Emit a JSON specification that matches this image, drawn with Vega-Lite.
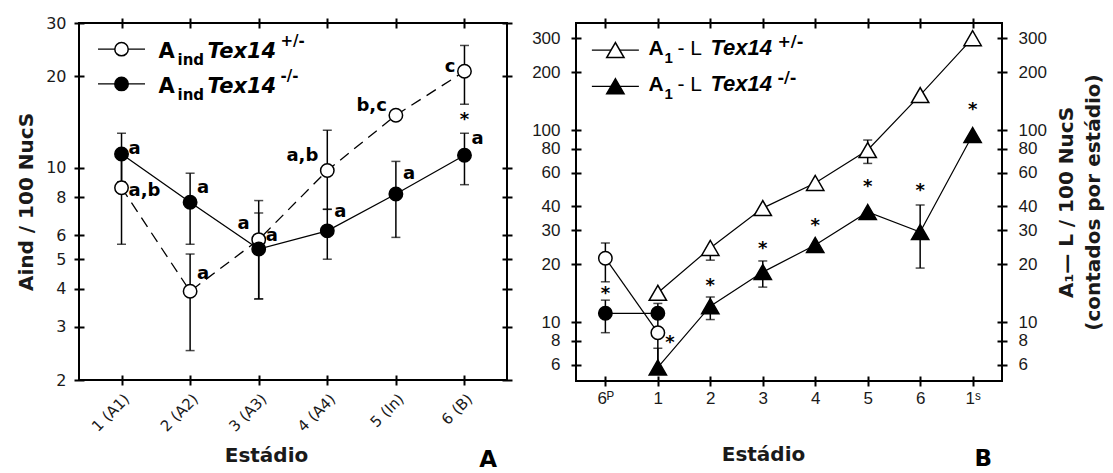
{
"$schema": "https://vega.github.io/schema/vega-lite/v6.json",
"background": "white",
"padding": {"left": 15, "top": 14, "right": 0, "bottom": 0},
"spacing": 16,
"config": {
  "view": {"stroke": "black", "strokeWidth": 2},
  "axis": {"grid": false, "domain": false, "tickColor": "black", "tickWidth": 2, "tickSize": 10, "offset": -5, "labelColor": "#1a1a1a", "titleColor": "#1a1a1a", "labelFont": "DejaVu Sans", "titleFont": "DejaVu Sans", "titleFontWeight": "bold", "titleFontSize": 20, "labelFontSize": 16, "labelOverlap": false, "labelFlush": false},
  "title": {"font": "DejaVu Sans", "fontSize": 23, "fontWeight": "bold", "color": "black"}
},
"datasets": {
  "mainA": [
    {"stage": "1 (A1)", "g": "het", "mean": 8.6, "lo": 5.6, "hi": 11.3},
    {"stage": "2 (A2)", "g": "het", "mean": 3.92, "lo": 2.5, "hi": 5.2},
    {"stage": "3 (A3)", "g": "het", "mean": 5.8, "lo": 3.7, "hi": 7.8},
    {"stage": "4 (A4)", "g": "het", "mean": 9.8, "lo": 7.3, "hi": 13.3},
    {"stage": "5 (In)", "g": "het", "mean": 14.9, "lo": null, "hi": null},
    {"stage": "6 (B)", "g": "het", "mean": 20.8, "lo": 16.2, "hi": 25.3},
    {"stage": "1 (A1)", "g": "ko", "mean": 11.1, "lo": 9.0, "hi": 13.0},
    {"stage": "2 (A2)", "g": "ko", "mean": 7.7, "lo": 5.6, "hi": 9.6},
    {"stage": "3 (A3)", "g": "ko", "mean": 5.4, "lo": 3.7, "hi": 7.1},
    {"stage": "4 (A4)", "g": "ko", "mean": 6.2, "lo": 5.0, "hi": 7.3},
    {"stage": "5 (In)", "g": "ko", "mean": 8.2, "lo": 5.9, "hi": 10.5},
    {"stage": "6 (B)", "g": "ko", "mean": 11.0, "lo": 8.8, "hi": 13.0}
  ],
  "legA": [
    {"stage": "1 (A1)", "val": 24.6, "g": "het", "sup": "+/-"},
    {"stage": "1 (A1)", "val": 18.9, "g": "ko", "sup": "-/-"}
  ],
  "letA": [
    {"stage": "1 (A1)", "val": 11.5, "txt": "a", "side": "r"},
    {"stage": "1 (A1)", "val": 8.4, "txt": "a,b", "side": "r"},
    {"stage": "2 (A2)", "val": 8.6, "txt": "a", "side": "r"},
    {"stage": "2 (A2)", "val": 4.46, "txt": "a", "side": "r"},
    {"stage": "3 (A3)", "val": 5.94, "txt": "a", "side": "r"},
    {"stage": "4 (A4)", "val": 7.17, "txt": "a", "side": "r"},
    {"stage": "5 (In)", "val": 9.55, "txt": "a", "side": "r"},
    {"stage": "6 (B)", "val": 12.4, "txt": "a", "side": "r"},
    {"stage": "3 (A3)", "val": 6.55, "txt": "a", "side": "l"},
    {"stage": "4 (A4)", "val": 10.9, "txt": "a,b", "side": "l"},
    {"stage": "5 (In)", "val": 16.0, "txt": "b,c", "side": "l"},
    {"stage": "6 (B)", "val": 21.5, "txt": "c", "side": "l"},
    {"stage": "6 (B)", "val": 14.7, "txt": "*", "side": "c"}
  ],
  "mainB": [
    {"stage": "1", "g": "th", "mean": 14.2, "lo": null, "hi": null},
    {"stage": "2", "g": "th", "mean": 24.3, "lo": 21.0, "hi": 24.3},
    {"stage": "3", "g": "th", "mean": 39.2, "lo": null, "hi": null},
    {"stage": "4", "g": "th", "mean": 53.0, "lo": null, "hi": null},
    {"stage": "5", "g": "th", "mean": 78.7, "lo": 67.0, "hi": 88.7},
    {"stage": "6", "g": "th", "mean": 152.0, "lo": null, "hi": null},
    {"stage": "1ˢ", "g": "th", "mean": 301.0, "lo": 276.0, "hi": 301.0},
    {"stage": "1", "g": "tk", "mean": 5.8, "lo": 5.4, "hi": 7.3},
    {"stage": "2", "g": "tk", "mean": 12.1, "lo": 10.3, "hi": 13.5},
    {"stage": "3", "g": "tk", "mean": 18.2, "lo": 15.2, "hi": 20.8},
    {"stage": "4", "g": "tk", "mean": 25.2, "lo": null, "hi": null},
    {"stage": "5", "g": "tk", "mean": 37.4, "lo": null, "hi": null},
    {"stage": "6", "g": "tk", "mean": 29.4, "lo": 19.1, "hi": 40.7},
    {"stage": "1ˢ", "g": "tk", "mean": 94.2, "lo": null, "hi": null},
    {"stage": "6ᴾ", "g": "ch", "mean": 21.5, "lo": 16.2, "hi": 25.8},
    {"stage": "1", "g": "ch", "mean": 8.8, "lo": 5.5, "hi": 8.8},
    {"stage": "6ᴾ", "g": "ck", "mean": 11.1, "lo": 8.8, "hi": 13.0},
    {"stage": "1", "g": "ck", "mean": 11.1, "lo": 9.1, "hi": 12.5}
  ],
  "legB": [
    {"stage": "6ᴾ", "val": 261, "g": "th", "sup": "+/-"},
    {"stage": "6ᴾ", "val": 169, "g": "tk", "sup": "-/-"}
  ],
  "starB": [
    {"stage": "6ᴾ", "val": 14.5},
    {"stage": "1", "val": 8.1},
    {"stage": "2", "val": 16.0},
    {"stage": "3", "val": 24.9},
    {"stage": "4", "val": 32.8},
    {"stage": "5", "val": 52.3},
    {"stage": "6", "val": 49.9},
    {"stage": "1ˢ", "val": 131.8}
  ]
},
"hconcat": [
  {
    "width": 428,
    "height": 357,
    "title": {"text": "A", "orient": "bottom", "anchor": "end", "frame": "group", "offset": -16, "dx": -10},
    "resolve": {"axis": {"x": "independent", "y": "independent"}},
    "layer": [
      {
        "data": {"name": "mainA"},
        "transform": [{"filter": "datum.g === 'het'"}],
        "mark": {"type": "line", "color": "black", "strokeWidth": 1.3, "strokeDash": [11, 7]},
        "encoding": {
          "x": {"field": "stage", "type": "nominal", "scale": {"type": "point", "padding": 0.62, "domain": ["1 (A1)", "2 (A2)", "3 (A3)", "4 (A4)", "5 (In)", "6 (B)"]}, "axis": {"orient": "bottom", "labelAngle": -45, "labelFontSize": 15, "labelPadding": 6, "title": "Estádio", "titleX": 187, "titleY": 86, "titleBaseline": "alphabetic"}},
          "y": {"field": "mean", "type": "quantitative", "scale": {"type": "log", "domain": [2, 30], "nice": false}, "axis": {"orient": "left", "values": [2, 3, 4, 5, 6, 8, 10, 20, 30], "format": "d", "labelPadding": 8, "title": "Aind / 100 NucS", "titlePadding": 9}},
          "order": {"value": null}
        }
      },
      {
        "data": {"name": "mainA"},
        "transform": [{"filter": "datum.g === 'ko'"}],
        "mark": {"type": "line", "color": "black", "strokeWidth": 1.3},
        "encoding": {
          "x": {"field": "stage", "type": "nominal", "scale": {"type": "point", "padding": 0.62, "domain": ["1 (A1)", "2 (A2)", "3 (A3)", "4 (A4)", "5 (In)", "6 (B)"]}, "axis": {"orient": "top", "labels": false, "title": null}},
          "y": {"field": "mean", "type": "quantitative", "scale": {"type": "log", "domain": [2, 30], "nice": false}, "axis": {"orient": "right", "values": [2, 3, 4, 5, 6, 8, 10, 20, 30], "labels": false, "title": null}},
          "order": {"value": null}
        }
      },
      {
        "data": {"name": "mainA"},
        "transform": [{"filter": "datum.lo != null"}],
        "mark": {"type": "errorbar", "color": "black", "thickness": 1.5, "size": 9, "ticks": true},
        "encoding": {
          "x": {"field": "stage", "type": "nominal", "scale": {"type": "point", "padding": 0.62, "domain": ["1 (A1)", "2 (A2)", "3 (A3)", "4 (A4)", "5 (In)", "6 (B)"]}, "axis": null},
          "y": {"field": "lo", "type": "quantitative", "scale": {"type": "log", "domain": [2, 30], "nice": false}, "axis": null},
          "y2": {"field": "hi"}
        }
      },
      {
        "data": {"name": "mainA"},
        "transform": [{"filter": "datum.g === 'het'"}],
        "mark": {"type": "point", "shape": "circle", "size": 180, "filled": true, "fill": "white", "stroke": "black", "strokeWidth": 1.5, "opacity": 1},
        "encoding": {
          "x": {"field": "stage", "type": "nominal", "scale": {"type": "point", "padding": 0.62, "domain": ["1 (A1)", "2 (A2)", "3 (A3)", "4 (A4)", "5 (In)", "6 (B)"]}, "axis": null},
          "y": {"field": "mean", "type": "quantitative", "scale": {"type": "log", "domain": [2, 30], "nice": false}, "axis": null}
        }
      },
      {
        "data": {"name": "mainA"},
        "transform": [{"filter": "datum.g === 'ko'"}],
        "mark": {"type": "point", "shape": "circle", "size": 180, "filled": true, "fill": "black", "stroke": "black", "strokeWidth": 1.5, "opacity": 1},
        "encoding": {
          "x": {"field": "stage", "type": "nominal", "scale": {"type": "point", "padding": 0.62, "domain": ["1 (A1)", "2 (A2)", "3 (A3)", "4 (A4)", "5 (In)", "6 (B)"]}, "axis": null},
          "y": {"field": "mean", "type": "quantitative", "scale": {"type": "log", "domain": [2, 30], "nice": false}, "axis": null}
        }
      },
      {
        "data": {"name": "legA"},
        "mark": {"type": "tick", "orient": "horizontal", "size": 47, "thickness": 1.3, "color": "black", "opacity": 1},
        "encoding": {
          "x": {"field": "stage", "type": "nominal", "scale": {"type": "point", "padding": 0.62, "domain": ["1 (A1)", "2 (A2)", "3 (A3)", "4 (A4)", "5 (In)", "6 (B)"]}, "axis": null},
          "y": {"field": "val", "type": "quantitative", "scale": {"type": "log", "domain": [2, 30], "nice": false}, "axis": null}
        }
      },
      {
        "data": {"name": "legA"},
        "transform": [{"filter": "datum.g === 'het'"}],
        "mark": {"type": "point", "shape": "circle", "size": 180, "filled": true, "fill": "white", "stroke": "black", "strokeWidth": 1.5, "opacity": 1},
        "encoding": {
          "x": {"field": "stage", "type": "nominal", "scale": {"type": "point", "padding": 0.62, "domain": ["1 (A1)", "2 (A2)", "3 (A3)", "4 (A4)", "5 (In)", "6 (B)"]}, "axis": null},
          "y": {"field": "val", "type": "quantitative", "scale": {"type": "log", "domain": [2, 30], "nice": false}, "axis": null}
        }
      },
      {
        "data": {"name": "legA"},
        "transform": [{"filter": "datum.g === 'ko'"}],
        "mark": {"type": "point", "shape": "circle", "size": 180, "filled": true, "fill": "black", "stroke": "black", "strokeWidth": 1.5, "opacity": 1},
        "encoding": {
          "x": {"field": "stage", "type": "nominal", "scale": {"type": "point", "padding": 0.62, "domain": ["1 (A1)", "2 (A2)", "3 (A3)", "4 (A4)", "5 (In)", "6 (B)"]}, "axis": null},
          "y": {"field": "val", "type": "quantitative", "scale": {"type": "log", "domain": [2, 30], "nice": false}, "axis": null}
        }
      },
      {
        "data": {"name": "legA"},
        "mark": {"type": "text", "text": "A", "align": "left", "baseline": "alphabetic", "dx": 37, "dy": 9, "font": "DejaVu Sans", "fontSize": 21, "fontWeight": "bold", "color": "black"},
        "encoding": {
          "x": {"field": "stage", "type": "nominal", "scale": {"type": "point", "padding": 0.62, "domain": ["1 (A1)", "2 (A2)", "3 (A3)", "4 (A4)", "5 (In)", "6 (B)"]}, "axis": null},
          "y": {"field": "val", "type": "quantitative", "scale": {"type": "log", "domain": [2, 30], "nice": false}, "axis": null}
        }
      },
      {
        "data": {"name": "legA"},
        "mark": {"type": "text", "text": "ind", "align": "left", "baseline": "alphabetic", "dx": 56, "dy": 16, "font": "DejaVu Sans", "fontSize": 15, "fontWeight": "bold", "color": "black"},
        "encoding": {
          "x": {"field": "stage", "type": "nominal", "scale": {"type": "point", "padding": 0.62, "domain": ["1 (A1)", "2 (A2)", "3 (A3)", "4 (A4)", "5 (In)", "6 (B)"]}, "axis": null},
          "y": {"field": "val", "type": "quantitative", "scale": {"type": "log", "domain": [2, 30], "nice": false}, "axis": null}
        }
      },
      {
        "data": {"name": "legA"},
        "mark": {"type": "text", "text": "Tex14", "align": "left", "baseline": "alphabetic", "dx": 86, "dy": 9, "font": "DejaVu Sans", "fontSize": 21, "fontWeight": "bold", "fontStyle": "italic", "color": "black"},
        "encoding": {
          "x": {"field": "stage", "type": "nominal", "scale": {"type": "point", "padding": 0.62, "domain": ["1 (A1)", "2 (A2)", "3 (A3)", "4 (A4)", "5 (In)", "6 (B)"]}, "axis": null},
          "y": {"field": "val", "type": "quantitative", "scale": {"type": "log", "domain": [2, 30], "nice": false}, "axis": null}
        }
      },
      {
        "data": {"name": "legA"},
        "mark": {"type": "text", "align": "left", "baseline": "alphabetic", "dx": 159, "dy": -3, "font": "DejaVu Sans", "fontSize": 15, "fontWeight": "bold", "color": "black"},
        "encoding": {
          "x": {"field": "stage", "type": "nominal", "scale": {"type": "point", "padding": 0.62, "domain": ["1 (A1)", "2 (A2)", "3 (A3)", "4 (A4)", "5 (In)", "6 (B)"]}, "axis": null},
          "y": {"field": "val", "type": "quantitative", "scale": {"type": "log", "domain": [2, 30], "nice": false}, "axis": null},
          "text": {"field": "sup"}
        }
      },
      {
        "data": {"name": "letA"},
        "transform": [{"filter": "datum.side === 'r'"}],
        "mark": {"type": "text", "align": "left", "baseline": "middle", "dx": 7, "font": "DejaVu Sans", "fontSize": 18, "fontWeight": "bold", "color": "black"},
        "encoding": {
          "x": {"field": "stage", "type": "nominal", "scale": {"type": "point", "padding": 0.62, "domain": ["1 (A1)", "2 (A2)", "3 (A3)", "4 (A4)", "5 (In)", "6 (B)"]}, "axis": null},
          "y": {"field": "val", "type": "quantitative", "scale": {"type": "log", "domain": [2, 30], "nice": false}, "axis": null},
          "text": {"field": "txt"}
        }
      },
      {
        "data": {"name": "letA"},
        "transform": [{"filter": "datum.side === 'l'"}],
        "mark": {"type": "text", "align": "right", "baseline": "middle", "dx": -9, "font": "DejaVu Sans", "fontSize": 18, "fontWeight": "bold", "color": "black"},
        "encoding": {
          "x": {"field": "stage", "type": "nominal", "scale": {"type": "point", "padding": 0.62, "domain": ["1 (A1)", "2 (A2)", "3 (A3)", "4 (A4)", "5 (In)", "6 (B)"]}, "axis": null},
          "y": {"field": "val", "type": "quantitative", "scale": {"type": "log", "domain": [2, 30], "nice": false}, "axis": null},
          "text": {"field": "txt"}
        }
      },
      {
        "data": {"name": "letA"},
        "transform": [{"filter": "datum.side === 'c'"}],
        "mark": {"type": "text", "align": "center", "baseline": "middle", "dy": 3, "font": "DejaVu Sans", "fontSize": 18, "fontWeight": "bold", "color": "black"},
        "encoding": {
          "x": {"field": "stage", "type": "nominal", "scale": {"type": "point", "padding": 0.62, "domain": ["1 (A1)", "2 (A2)", "3 (A3)", "4 (A4)", "5 (In)", "6 (B)"]}, "axis": null},
          "y": {"field": "val", "type": "quantitative", "scale": {"type": "log", "domain": [2, 30], "nice": false}, "axis": null},
          "text": {"field": "txt"}
        }
      }
    ]
  },
  {
    "width": 426,
    "height": 358,
    "title": {"text": "B", "orient": "bottom", "anchor": "end", "frame": "group", "offset": -16, "dx": -10},
    "resolve": {"axis": {"x": "independent", "y": "independent"}},
    "layer": [
      {
        "data": {"name": "mainB"},
        "transform": [{"filter": "datum.g === 'th'"}],
        "mark": {"type": "line", "color": "black", "strokeWidth": 1.2},
        "encoding": {
          "x": {"field": "stage", "type": "nominal", "scale": {"type": "point", "padding": 0.56, "domain": ["6ᴾ", "1", "2", "3", "4", "5", "6", "1ˢ"]}, "axis": {"orient": "bottom", "labelAngle": 0, "labelFont": "Liberation Sans", "labelFontSize": 17, "labelPadding": 4, "title": "Estádio", "titleX": 187, "titleY": 84, "titleBaseline": "alphabetic"}},
          "y": {"field": "mean", "type": "quantitative", "scale": {"type": "log", "domain": [4.93, 361], "nice": false}, "axis": {"orient": "left", "values": [6, 8, 10, 20, 30, 40, 60, 80, 100, 200, 300], "format": "d", "labelFont": "Liberation Sans", "labelFontSize": 17, "labelPadding": 11, "title": null}},
          "order": {"value": null}
        }
      },
      {
        "data": {"name": "mainB"},
        "transform": [{"filter": "datum.g === 'tk'"}],
        "mark": {"type": "line", "color": "black", "strokeWidth": 1.2},
        "encoding": {
          "x": {"field": "stage", "type": "nominal", "scale": {"type": "point", "padding": 0.56, "domain": ["6ᴾ", "1", "2", "3", "4", "5", "6", "1ˢ"]}, "axis": {"orient": "top", "labels": false, "title": null}},
          "y": {"field": "mean", "type": "quantitative", "scale": {"type": "log", "domain": [4.93, 361], "nice": false}, "axis": {"orient": "right", "values": [6, 8, 10, 20, 30, 40, 60, 80, 100, 200, 300], "format": "d", "labelFont": "Liberation Sans", "labelFontSize": 17, "labelPadding": 11, "title": ["A₁— L / 100 NucS", "(contados por estádio)"], "titlePadding": -17, "titleAngle": 270, "titleBaseline": "top", "titleLineHeight": 27}},
          "order": {"value": null}
        }
      },
      {
        "data": {"name": "mainB"},
        "transform": [{"filter": "datum.g === 'ch'"}],
        "mark": {"type": "line", "color": "black", "strokeWidth": 1.2},
        "encoding": {
          "x": {"field": "stage", "type": "nominal", "scale": {"type": "point", "padding": 0.56, "domain": ["6ᴾ", "1", "2", "3", "4", "5", "6", "1ˢ"]}, "axis": null},
          "y": {"field": "mean", "type": "quantitative", "scale": {"type": "log", "domain": [4.93, 361], "nice": false}, "axis": null},
          "order": {"value": null}
        }
      },
      {
        "data": {"name": "mainB"},
        "transform": [{"filter": "datum.g === 'ck'"}],
        "mark": {"type": "line", "color": "black", "strokeWidth": 1.2},
        "encoding": {
          "x": {"field": "stage", "type": "nominal", "scale": {"type": "point", "padding": 0.56, "domain": ["6ᴾ", "1", "2", "3", "4", "5", "6", "1ˢ"]}, "axis": null},
          "y": {"field": "mean", "type": "quantitative", "scale": {"type": "log", "domain": [4.93, 361], "nice": false}, "axis": null},
          "order": {"value": null}
        }
      },
      {
        "data": {"name": "mainB"},
        "transform": [{"filter": "datum.lo != null"}],
        "mark": {"type": "errorbar", "color": "black", "thickness": 1.5, "size": 9, "ticks": true},
        "encoding": {
          "x": {"field": "stage", "type": "nominal", "scale": {"type": "point", "padding": 0.56, "domain": ["6ᴾ", "1", "2", "3", "4", "5", "6", "1ˢ"]}, "axis": null},
          "y": {"field": "lo", "type": "quantitative", "scale": {"type": "log", "domain": [4.93, 361], "nice": false}, "axis": null},
          "y2": {"field": "hi"}
        }
      },
      {
        "data": {"name": "mainB"},
        "transform": [{"filter": "datum.g === 'ch'"}],
        "mark": {"type": "point", "shape": "circle", "size": 180, "filled": true, "fill": "white", "stroke": "black", "strokeWidth": 1.5, "opacity": 1},
        "encoding": {
          "x": {"field": "stage", "type": "nominal", "scale": {"type": "point", "padding": 0.56, "domain": ["6ᴾ", "1", "2", "3", "4", "5", "6", "1ˢ"]}, "axis": null},
          "y": {"field": "mean", "type": "quantitative", "scale": {"type": "log", "domain": [4.93, 361], "nice": false}, "axis": null}
        }
      },
      {
        "data": {"name": "mainB"},
        "transform": [{"filter": "datum.g === 'ck'"}],
        "mark": {"type": "point", "shape": "circle", "size": 180, "filled": true, "fill": "black", "stroke": "black", "strokeWidth": 1.5, "opacity": 1},
        "encoding": {
          "x": {"field": "stage", "type": "nominal", "scale": {"type": "point", "padding": 0.56, "domain": ["6ᴾ", "1", "2", "3", "4", "5", "6", "1ˢ"]}, "axis": null},
          "y": {"field": "mean", "type": "quantitative", "scale": {"type": "log", "domain": [4.93, 361], "nice": false}, "axis": null}
        }
      },
      {
        "data": {"name": "mainB"},
        "transform": [{"filter": "datum.g === 'th'"}],
        "mark": {"type": "point", "shape": "triangle-up", "size": 300, "filled": true, "fill": "white", "stroke": "black", "strokeWidth": 1.5, "opacity": 1},
        "encoding": {
          "x": {"field": "stage", "type": "nominal", "scale": {"type": "point", "padding": 0.56, "domain": ["6ᴾ", "1", "2", "3", "4", "5", "6", "1ˢ"]}, "axis": null},
          "y": {"field": "mean", "type": "quantitative", "scale": {"type": "log", "domain": [4.93, 361], "nice": false}, "axis": null}
        }
      },
      {
        "data": {"name": "mainB"},
        "transform": [{"filter": "datum.g === 'tk'"}],
        "mark": {"type": "point", "shape": "triangle-up", "size": 300, "filled": true, "fill": "black", "stroke": "black", "strokeWidth": 1.5, "opacity": 1},
        "encoding": {
          "x": {"field": "stage", "type": "nominal", "scale": {"type": "point", "padding": 0.56, "domain": ["6ᴾ", "1", "2", "3", "4", "5", "6", "1ˢ"]}, "axis": null},
          "y": {"field": "mean", "type": "quantitative", "scale": {"type": "log", "domain": [4.93, 361], "nice": false}, "axis": null}
        }
      },
      {
        "data": {"name": "legB"},
        "mark": {"type": "tick", "orient": "horizontal", "size": 47, "thickness": 1.3, "color": "black", "opacity": 1, "xOffset": 10},
        "encoding": {
          "x": {"field": "stage", "type": "nominal", "scale": {"type": "point", "padding": 0.56, "domain": ["6ᴾ", "1", "2", "3", "4", "5", "6", "1ˢ"]}, "axis": null},
          "y": {"field": "val", "type": "quantitative", "scale": {"type": "log", "domain": [4.93, 361], "nice": false}, "axis": null}
        }
      },
      {
        "data": {"name": "legB"},
        "transform": [{"filter": "datum.g === 'th'"}],
        "mark": {"type": "point", "shape": "triangle-up", "size": 300, "filled": true, "fill": "white", "stroke": "black", "strokeWidth": 1.5, "opacity": 1, "xOffset": 10},
        "encoding": {
          "x": {"field": "stage", "type": "nominal", "scale": {"type": "point", "padding": 0.56, "domain": ["6ᴾ", "1", "2", "3", "4", "5", "6", "1ˢ"]}, "axis": null},
          "y": {"field": "val", "type": "quantitative", "scale": {"type": "log", "domain": [4.93, 361], "nice": false}, "axis": null}
        }
      },
      {
        "data": {"name": "legB"},
        "transform": [{"filter": "datum.g === 'tk'"}],
        "mark": {"type": "point", "shape": "triangle-up", "size": 300, "filled": true, "fill": "black", "stroke": "black", "strokeWidth": 1.5, "opacity": 1, "xOffset": 10},
        "encoding": {
          "x": {"field": "stage", "type": "nominal", "scale": {"type": "point", "padding": 0.56, "domain": ["6ᴾ", "1", "2", "3", "4", "5", "6", "1ˢ"]}, "axis": null},
          "y": {"field": "val", "type": "quantitative", "scale": {"type": "log", "domain": [4.93, 361], "nice": false}, "axis": null}
        }
      },
      {
        "data": {"name": "legB"},
        "mark": {"type": "text", "text": "A", "align": "left", "baseline": "alphabetic", "dx": 43, "dy": 5, "font": "Liberation Sans", "fontSize": 21, "fontWeight": "bold", "color": "black"},
        "encoding": {
          "x": {"field": "stage", "type": "nominal", "scale": {"type": "point", "padding": 0.56, "domain": ["6ᴾ", "1", "2", "3", "4", "5", "6", "1ˢ"]}, "axis": null},
          "y": {"field": "val", "type": "quantitative", "scale": {"type": "log", "domain": [4.93, 361], "nice": false}, "axis": null}
        }
      },
      {
        "data": {"name": "legB"},
        "mark": {"type": "text", "text": "1", "align": "left", "baseline": "alphabetic", "dx": 59, "dy": 13, "font": "Liberation Sans", "fontSize": 15, "fontWeight": "bold", "color": "black"},
        "encoding": {
          "x": {"field": "stage", "type": "nominal", "scale": {"type": "point", "padding": 0.56, "domain": ["6ᴾ", "1", "2", "3", "4", "5", "6", "1ˢ"]}, "axis": null},
          "y": {"field": "val", "type": "quantitative", "scale": {"type": "log", "domain": [4.93, 361], "nice": false}, "axis": null}
        }
      },
      {
        "data": {"name": "legB"},
        "mark": {"type": "text", "text": "- L", "align": "left", "baseline": "alphabetic", "dx": 72, "dy": 5, "font": "Liberation Sans", "fontSize": 21, "color": "black"},
        "encoding": {
          "x": {"field": "stage", "type": "nominal", "scale": {"type": "point", "padding": 0.56, "domain": ["6ᴾ", "1", "2", "3", "4", "5", "6", "1ˢ"]}, "axis": null},
          "y": {"field": "val", "type": "quantitative", "scale": {"type": "log", "domain": [4.93, 361], "nice": false}, "axis": null}
        }
      },
      {
        "data": {"name": "legB"},
        "mark": {"type": "text", "text": "Tex14", "align": "left", "baseline": "alphabetic", "dx": 105, "dy": 5, "font": "Liberation Sans", "fontSize": 22, "fontWeight": "bold", "fontStyle": "italic", "color": "black"},
        "encoding": {
          "x": {"field": "stage", "type": "nominal", "scale": {"type": "point", "padding": 0.56, "domain": ["6ᴾ", "1", "2", "3", "4", "5", "6", "1ˢ"]}, "axis": null},
          "y": {"field": "val", "type": "quantitative", "scale": {"type": "log", "domain": [4.93, 361], "nice": false}, "axis": null}
        }
      },
      {
        "data": {"name": "legB"},
        "mark": {"type": "text", "align": "left", "baseline": "alphabetic", "dx": 172, "dy": -3, "font": "DejaVu Sans", "fontSize": 16, "fontWeight": "bold", "color": "black"},
        "encoding": {
          "x": {"field": "stage", "type": "nominal", "scale": {"type": "point", "padding": 0.56, "domain": ["6ᴾ", "1", "2", "3", "4", "5", "6", "1ˢ"]}, "axis": null},
          "y": {"field": "val", "type": "quantitative", "scale": {"type": "log", "domain": [4.93, 361], "nice": false}, "axis": null},
          "text": {"field": "sup"}
        }
      },
      {
        "data": {"name": "starB"},
        "transform": [{"filter": "datum.stage !== '1'"}],
        "mark": {"type": "text", "text": "*", "align": "center", "baseline": "middle", "dy": 3, "font": "DejaVu Sans", "fontSize": 18, "fontWeight": "bold", "color": "black"},
        "encoding": {
          "x": {"field": "stage", "type": "nominal", "scale": {"type": "point", "padding": 0.56, "domain": ["6ᴾ", "1", "2", "3", "4", "5", "6", "1ˢ"]}, "axis": null},
          "y": {"field": "val", "type": "quantitative", "scale": {"type": "log", "domain": [4.93, 361], "nice": false}, "axis": null}
        }
      },
      {
        "data": {"name": "starB"},
        "transform": [{"filter": "datum.stage === '1'"}],
        "mark": {"type": "text", "text": "*", "align": "center", "baseline": "middle", "dx": 12, "dy": 3, "font": "DejaVu Sans", "fontSize": 18, "fontWeight": "bold", "color": "black"},
        "encoding": {
          "x": {"field": "stage", "type": "nominal", "scale": {"type": "point", "padding": 0.56, "domain": ["6ᴾ", "1", "2", "3", "4", "5", "6", "1ˢ"]}, "axis": null},
          "y": {"field": "val", "type": "quantitative", "scale": {"type": "log", "domain": [4.93, 361], "nice": false}, "axis": null}
        }
      }
    ]
  }
]
}
